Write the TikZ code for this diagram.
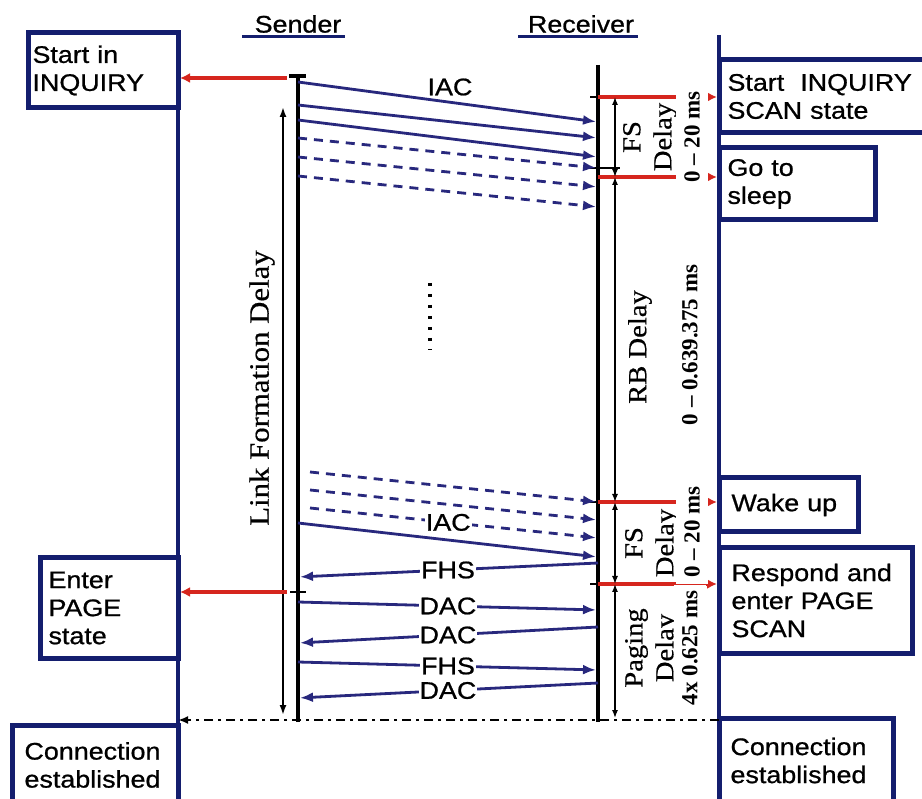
\documentclass[tikz,border=0pt]{standalone}
\usepackage{fontspec}
\setmainfont{Liberation Serif}
\newfontfamily\sansw[FakeStretch=1.12,FakeBold=0.8]{Liberation Sans}
\newfontfamily\serifw[FakeStretch=1.1,FakeBold=0.5]{Liberation Serif}
\usetikzlibrary{arrows.meta}
\definecolor{navy}{RGB}{20,30,110}
\definecolor{msg}{RGB}{40,40,125}
\definecolor{redl}{RGB}{214,38,30}
\begin{document}
\begin{tikzpicture}[x=1pt,y=-1pt,
  sfont/.style={font=\sansw\fontsize{24}{28}\selectfont},
  box/.style={draw=navy, line width=5pt, anchor=north west, outer sep=0pt,
    inner ysep=0pt, align=left, sfont},
  life/.style={line width=4pt, black},
  blue life/.style={line width=4.5pt, navy},
  msgs/.style={draw=msg, line width=2.8pt, -{Latex[length=13pt,width=10pt]}, shorten >=2pt},
  dmsgs/.style={msgs, dash pattern=on 9pt off 7pt},
  lbl/.style={fill=white, inner sep=1pt, sfont},
  redarrow/.style={redl, line width=4pt, -{Latex[length=10pt,width=10pt]}, shorten >=2pt},
  dly/.style={black, line width=1.3pt, {Latex[length=8pt,width=6pt]}-{Latex[length=8pt,width=6pt]}},
  vlab/.style={rotate=90, align=center, font=\serifw\fontsize{26}{31}\selectfont},
  numlab/.style={rotate=90, fill=white, inner xsep=6pt, inner ysep=8pt, font=\bfseries\fontsize{23}{27}\selectfont},
  tick/.style={black, line width=1.8pt}
]
\useasboundingbox (0,0) rectangle (922,799);
\clip (0,0) rectangle (922,799);
\fill[white] (0,0) rectangle (922,799);

% reference columns
\coordinate (S) at (298,0);
\coordinate (R) at (598,0);
\coordinate (D) at (615,0);
\coordinate (BL) at (178,0);
\coordinate (BR) at (719,0);
\coordinate (LF) at (283,0);

% titles
\node[sfont] (sender) at (298,24) {Sender};
\node[sfont] (receiver) at (581,24) {Receiver};
\draw[navy, line width=3pt] ([xshift=-9pt]sender.south west) -- (sender.south east);
\draw[navy, line width=3pt] ([xshift=-6pt]receiver.south west) -- (receiver.south east);

% blue state lines
\draw[blue life] (BL|-0,33) -- (BL|-0,805);
\draw[blue life] (BR|-0,35) -- (BR|-0,805);

% boxes
\node[box, minimum width=150pt, minimum height=75pt, inner xsep=4pt, text width=141pt] (inq) at (28,33) {Start in\\INQUIRY};
\node[box, minimum width=138pt, minimum height=100pt, inner xsep=8pt, text width=121pt] (page) at (40,558) {Enter\\PAGE\\state};
\node[box, minimum width=166pt, minimum height=80pt, inner xsep=12pt, text width=141pt] (connl) at (12,725) {Connection\\established};
\node[box, minimum width=215pt, minimum height=73pt, inner xsep=8pt, text width=198pt] (inqscan) at (719,60) {Start~ INQUIRY\\SCAN state};
\node[box, minimum width=156pt, minimum height=72pt, inner xsep=8pt, text width=139pt] (sleep) at (719,148) {Go to\\sleep};
\node[box, minimum width=139pt, minimum height=54pt, inner xsep=12pt, text width=114pt] (wake) at (719,478) {Wake up};
\node[box, minimum width=193pt, minimum height=105pt, inner xsep=12pt, text width=168pt] (respond) at (719,548) {Respond and\\enter PAGE\\SCAN};
\node[box, minimum width=174pt, minimum height=85pt, inner xsep=11pt, text width=151pt] (connr) at (719,718) {Connection\\established};

% lifelines
\draw[life] (S|-0,75) -- (S|-0,722);
\draw[life] (R|-0,65) -- (R|-0,722);
\draw[black, line width=4pt] (289,76) -- (306,76);
\draw[tick] (290,592) -- (306,592);
\foreach \yy in {97,168,502,584} \draw[tick] (590,\yy) -- (620,\yy);

% link formation delay
\draw[black, line width=1.8pt, {Latex[length=10pt,width=7pt]}-{Latex[length=10pt,width=7pt]}] (LF|-0,107) -- (LF|-0,715);

% inquiry messages (top)
\draw[msgs] (S|-0,82) -- (R|-0,122);
\draw[msgs] (S|-0,105) -- (R|-0,138);
\draw[msgs] (S|-0,120) -- (R|-0,157);
\draw[dmsgs] (S|-0,138) -- (R|-0,168);
\draw[dmsgs] (S|-0,157) -- (R|-0,187);
\draw[dmsgs] (S|-0,176) -- (R|-0,207);
\node[sfont] (iac1) at (450,87) {IAC};

% dots
\draw[black, line width=3.5pt, dash pattern=on 3pt off 8pt] (430,283) -- (430,350);

% inquiry messages (bottom)
\draw[dmsgs] (310,472) -- (R|-0,502);
\draw[dmsgs] (310,490) -- (R|-0,520);
\draw[dmsgs] (310,508) -- node[lbl, pos=0.48] (iac2) {IAC} (R|-0,538);
\draw[msgs] (S|-0,523) -- (R|-0,557);

% paging messages
\draw[msgs] (R|-0,563) -- node[lbl] (fhs1) {FHS} (S|-0,577);
\draw[msgs] (S|-0,602) -- node[lbl] (dac1) {DAC} (R|-0,610);
\draw[msgs] (R|-0,627) -- node[lbl] (dac2) {DAC} (S|-0,643);
\draw[msgs] (S|-0,662) -- node[lbl] (fhs2) {FHS} (R|-0,670);
\draw[msgs] (R|-0,683) -- node[lbl] (dac3) {DAC} (S|-0,698);

% state change arrows
\draw[redarrow, shorten <=11pt] (S|-0,78) -- (BL|-0,78);
\draw[redarrow, shorten <=11pt] (S|-0,592) -- (BL|-0,592);
\draw[redarrow] (R|-0,97) -- (BR|-0,97);
\draw[redarrow] (R|-0,177) -- (BR|-0,177);
\draw[redarrow] (R|-0,502) -- (BR|-0,502);
\draw[redarrow] (R|-0,584) -- (BR|-0,584);

% connection established
\draw[black, line width=2pt, dash pattern=on 9pt off 5pt on 3pt off 5pt, -{Latex[length=10pt,width=8pt]}] (BR|-0,720) -- (BL|-0,720);

% delay arrows
\draw[dly] (D|-0,97) -- (D|-0,177);
\draw[dly] (D|-0,177) -- (D|-0,502);
\draw[dly] (D|-0,502) -- (D|-0,584);
\draw[dly] (D|-0,584) -- (D|-0,718);

% delay labels
\node[vlab, font=\serifw\fontsize{28}{31}\selectfont] (lfd) at (262,388) {Link Formation Delay};
\node[vlab] (fs1) at (650,137) {FS\\Delay};
\node[numlab] (fs1t) at (692,137) {0 – 20 ms};
\node[vlab] (rbd) at (640,347) {RB Delay};
\node[numlab] (rbt) at (690,345) {0 – 0.639.375 ms};
\node[vlab] (fs2) at (652,543) {FS\\Delay};
\node[numlab] (fs2t) at (692,532) {0 – 20 ms};
\node[vlab] (pgd) at (652,648) {Paging\\Delay};
\node[numlab] (pgt) at (690,648) {4x 0.625 ms};
\end{tikzpicture}
\end{document}
